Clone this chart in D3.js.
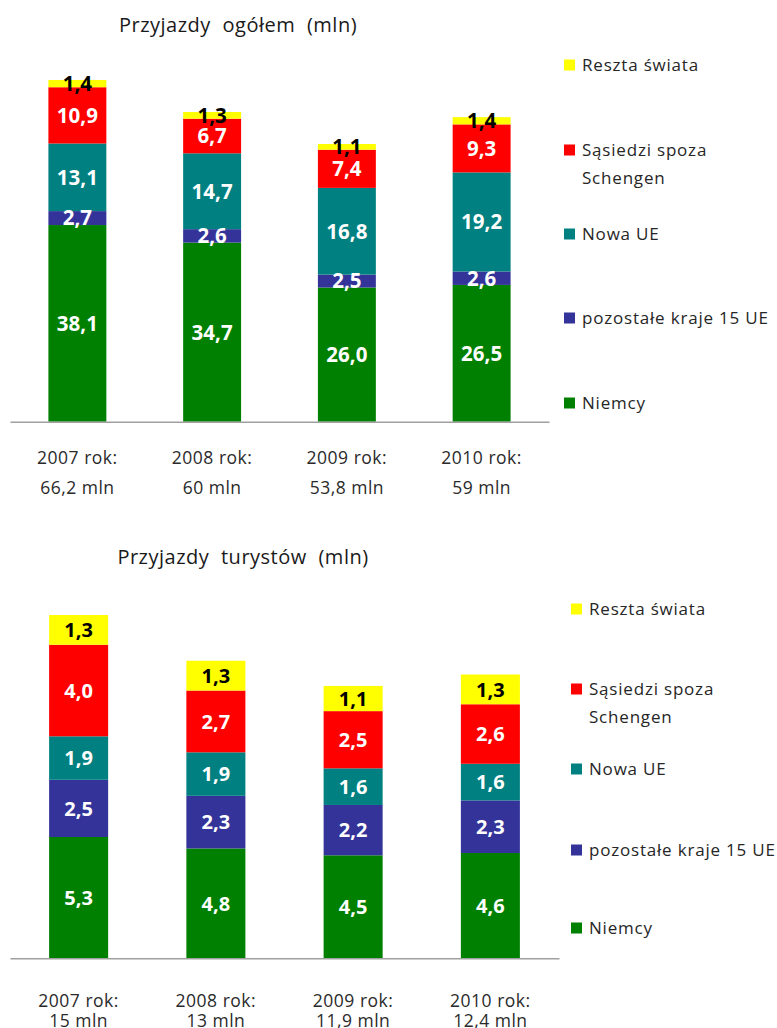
<!DOCTYPE html>
<html>
<head>
<meta charset="utf-8">
<script src="https://cdn.jsdelivr.net/npm/d3@7"></script>
<style>
  html, body { margin: 0; padding: 0; background: #fff; }
  svg { display: block; font-family: "Open Sans", "Noto Sans", sans-serif; }
</style>
</head>
<body>
<svg id="chart" width="777" height="1028"></svg>
<script>
// Years on the horizontal axis
const years = ["2007", "2008", "2009", "2010"];

// Series, bottom to top of each stack
const seriesNames = ["Niemcy", "pozostałe kraje 15 UE", "Nowa UE", "Sąsiedzi spoza Schengen", "Reszta świata"];
const seriesColors = ["#008000", "#333399", "#008080", "#FF0000", "#FFFF00"];
const legendLines = [["Niemcy"], ["pozostałe kraje 15 UE"], ["Nowa UE"], ["Sąsiedzi spoza", "Schengen"], ["Reszta świata"]];

// Arrivals overall (mln)
const allGermany   = [38.1, 34.7, 26.0, 26.5];
const allEU15      = [2.7, 2.6, 2.5, 2.6];
const allNewEU     = [13.1, 14.7, 16.8, 19.2];
const allNeighbors = [10.9, 6.7, 7.4, 9.3];
const allRest      = [1.4, 1.3, 1.1, 1.4];
const allTotals    = ["66,2 mln", "60 mln", "53,8 mln", "59 mln"];

// Tourist arrivals (mln)
const touGermany   = [5.3, 4.8, 4.5, 4.6];
const touEU15      = [2.5, 2.3, 2.2, 2.3];
const touNewEU     = [1.9, 1.9, 1.6, 1.6];
const touNeighbors = [4.0, 2.7, 2.5, 2.6];
const touRest      = [1.3, 1.3, 1.1, 1.3];
const touTotals    = ["15 mln", "13 mln", "11,9 mln", "12,4 mln"];

const svg = d3.select("#chart");
const fmt = v => d3.format(".1f")(v).replace(".", ",");

function drawPanel(cfg) {
  const g = svg.append("g");
  const rows = years.map((yr, i) => {
    const r = { year: yr };
    cfg.series.forEach((arr, k) => { r[seriesNames[k]] = arr[i]; });
    return r;
  });
  const stacked = d3.stack().keys(seriesNames)(rows);
  const maxTotal = d3.max(stacked[stacked.length - 1], d => d[1]);

  const x = d3.scaleBand().domain(years).range([cfg.x0, cfg.x1])
    .paddingInner(0.57).paddingOuter(0.285);
  const y = d3.scaleLinear().domain([0, maxTotal]).range([cfg.axisY, cfg.topY]);

  // title
  g.append("text")
    .attr("x", cfg.titleX).attr("y", cfg.titleY)
    .attr("text-anchor", "middle")
    .attr("font-size", 20).attr("fill", "#1a1a1a")
    .attr("letter-spacing", 0.5)
    .attr("word-spacing", 6)
    .text(cfg.title);

  // stacked bars
  const layers = g.selectAll("g.layer").data(stacked).join("g")
    .attr("class", "layer")
    .attr("fill", (d, i) => seriesColors[i]);
  layers.selectAll("rect").data(d => d).join("rect")
    .attr("x", d => x(d.data.year))
    .attr("width", x.bandwidth())
    .attr("y", d => y(d[1]))
    .attr("height", d => y(d[0]) - y(d[1]));

  // value labels
  stacked.forEach((layer, k) => {
    g.selectAll(null).data(layer).join("text")
      .attr("x", d => x(d.data.year) + x.bandwidth() / 2)
      .attr("y", d => (y(d[0]) + y(d[1])) / 2)
      .attr("dy", "0.36em")
      .attr("text-anchor", "middle")
      .attr("font-weight", "bold")
      .attr("font-size", cfg.labelSize)
      .attr("fill", k === 4 ? "#000" : "#fff")
      .text(d => fmt(d[1] - d[0]));
  });

  // baseline
  const axis = g.append("g")
    .attr("transform", `translate(0,${cfg.axisY})`)
    .call(d3.axisBottom(x).tickSize(0).tickSizeOuter(0).tickFormat(""));
  axis.select(".domain").attr("stroke", "#a0a0a0").attr("stroke-width", 1.5);

  // category labels
  const lab = g.selectAll("text.cat").data(years).join("text")
    .attr("class", "cat")
    .attr("text-anchor", "middle")
    .attr("font-size", 17.5).attr("fill", "#2a2a2a")
    .attr("letter-spacing", 0.5);
  lab.append("tspan")
    .attr("x", d => x(d) + x.bandwidth() / 2)
    .attr("y", cfg.catY1)
    .text(d => d + " rok:");
  lab.append("tspan")
    .attr("x", d => x(d) + x.bandwidth() / 2)
    .attr("y", cfg.catY2)
    .text((d, i) => cfg.totals[i]);

  // legend
  const lg = g.selectAll("g.leg").data(seriesNames).join("g")
    .attr("class", "leg")
    .attr("transform", (d, i) => `translate(${cfg.legX},${cfg.legY[i]})`);
  lg.append("rect")
    .attr("x", 0).attr("y", -5.5).attr("width", 11).attr("height", 11)
    .attr("fill", (d, i) => seriesColors[i]);
  lg.each(function (d, i) {
    legendLines[i].forEach((line, j) => {
      d3.select(this).append("text")
        .attr("x", 18).attr("y", j * 28)
        .attr("dy", "0.36em")
        .attr("font-size", 17).attr("fill", "#262626")
        .attr("letter-spacing", 0.8)
        .text(line);
    });
  });
}

drawPanel({
  series: [allGermany, allEU15, allNewEU, allNeighbors, allRest],
  totals: allTotals,
  title: "Przyjazdy ogółem (mln)",
  titleX: 238, titleY: 32,
  x0: 10, x1: 549, axisY: 421.7, topY: 80,
  labelSize: 20.5,
  catY1: 464, catY2: 494,
  legX: 564, legY: [403, 318, 234, 150, 65]
});

drawPanel({
  series: [touGermany, touEU15, touNewEU, touNeighbors, touRest],
  totals: touTotals,
  title: "Przyjazdy turystów (mln)",
  titleX: 243, titleY: 564,
  x0: 10, x1: 559, axisY: 958.3, topY: 615,
  labelSize: 20,
  catY1: 1007, catY2: 1027,
  legX: 571, legY: [928, 850, 769, 689, 609]
});
</script>
</body>
</html>
